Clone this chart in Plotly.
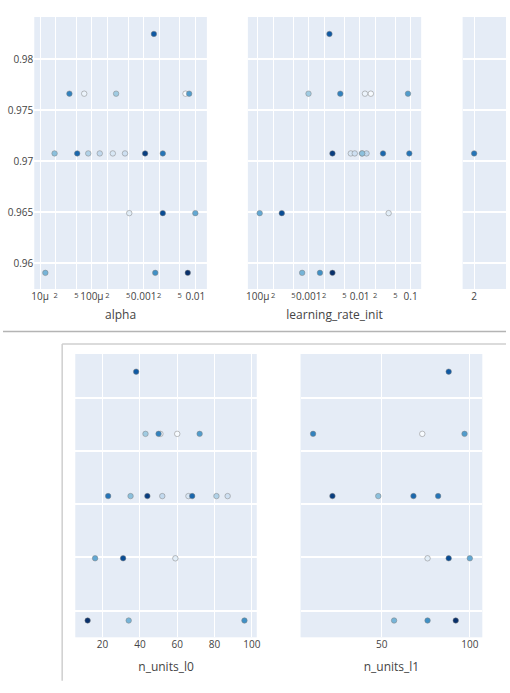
import plotly.graph_objects as go

# ---- data ----
trial_number = list(range(20))
objective_value = [0.97661, 0.97661, 0.96491, 0.97076, 0.97076, 0.97076, 0.97076, 0.97661,
                   0.97076, 0.95906, 0.96491, 0.97661, 0.95906, 0.97661, 0.97076, 0.97076,
                   0.98246, 0.96491, 0.97076, 0.95906]
alpha = [6.46e-3, 7.1e-5, 5.28e-4, 2.54e-4, 4.37e-4, 1.42e-4, 8.5e-5, 2.94e-4,
         1.9e-5, 1.26e-5, 1.0e-2, 7.6e-3, 1.68e-3, 3.68e-5, 2.35e-3, 5.2e-5,
         1.58e-3, 2.35e-3, 1.07e-3, 7.14e-3]
learning_rate_init = [0.01655, 0.0127, 0.037, 6.7e-3, 8.0e-3, 0.01365, 0.0111, 9.9e-4,
                      0.0112, 7.43e-4, 1.09e-4, 0.0887, 1.66e-3, 4.16e-3, 0.0942, 0.0287,
                      2.55e-3, 2.96e-4, 2.92e-3, 2.92e-3]
n_layers = [None, None, None, None, None, None, None, None, None, None,
            None, None, None, None, 2, None, None, None, None, None]
n_units_l0 = [60, 51, 59, 66, 87, 52, 81, 43, 35, 34, 16, 72, 96, 50, 23, 68, 38, 31, 44, 12]
n_units_l1 = [73, None, 76, None, None, None, None, None, 48, 57, 100, 97, 76, 11, 82, 68,
              88, 88, 22, 92]

y_ticks = [0.96, 0.965, 0.97, 0.975, 0.98]
y_tick_text = ["0.96", "0.965", "0.97", "0.975", "0.98"]

W, H = 510, 693

def px_x(a, b):
    return [a / W, b / W]

def px_y(top, bottom):
    return [1 - bottom / H, 1 - top / H]

panels = [
    dict(name="alpha", xs=alpha, xdom=px_x(31.7, 206.7), ydom=px_y(17, 289), showy=True,
         xopts=dict(type="log", range=[-5.114, -1.777], dtick="D2"), title=True, standoff=8),
    dict(name="learning_rate_init", xs=learning_rate_init, xdom=px_x(248.3, 424), ydom=px_y(17, 289),
         showy=False, xopts=dict(type="log", range=[-4.194, -0.793], dtick="D2"), title=True, standoff=8),
    dict(name="n_layers", xs=n_layers, xdom=px_x(466, 510), ydom=px_y(17, 289), showy=False,
         xopts=dict(range=[1.9, 2.276], dtick=1, tick0=0), title=False, standoff=8),
    dict(name="n_units_l0", xs=n_units_l0, xdom=px_x(73.3, 257.3), ydom=px_y(354, 637.3), showy=False,
         xopts=dict(range=[5.4, 102.6], dtick=20), title=True, standoff=12),
    dict(name="n_units_l1", xs=n_units_l1, xdom=px_x(301.7, 486), ydom=px_y(354, 637.3), showy=False,
         xopts=dict(range=[3.9, 107.1], dtick=50), title=True, standoff=12),
]

fig = go.Figure()
layout = {}
tick_font = dict(family="Open Sans", size=10, color="#444")
for i, p in enumerate(panels, start=1):
    sfx = "" if i == 1 else str(i)
    t = [n for n, x in zip(trial_number, p["xs"]) if x is not None]
    xv = [x for x in p["xs"] if x is not None]
    yv = [v for v, x in zip(objective_value, p["xs"]) if x is not None]
    fig.add_trace(go.Scatter(
        x=xv, y=yv, mode="markers", showlegend=False,
        marker=dict(color=t, colorscale="Blues", cmin=0, cmax=19, size=5.5,
                    line=dict(width=0.5, color="Grey")),
        xaxis="x" + sfx, yaxis="y" + sfx))
    xa = dict(domain=p["xdom"], anchor="y" + sfx, showgrid=True, gridcolor="white",
              gridwidth=1, zeroline=False, tickfont=tick_font, ticks="", showline=False,
              **p["xopts"])
    if p["title"]:
        xa["title"] = dict(text=p["name"], font=dict(family="Open Sans", size=12, color="#444"),
                           standoff=p["standoff"])
    ya = dict(domain=p["ydom"], anchor="x" + sfx, range=[0.95748, 0.98412],
              tickvals=y_ticks, ticktext=y_tick_text, showticklabels=p["showy"],
              showgrid=True, gridcolor="white", gridwidth=1.5, zeroline=False,
              tickfont=tick_font, ticks="")
    layout["xaxis" + sfx] = xa
    layout["yaxis" + sfx] = ya

fig.update_layout(**layout)
fig.update_layout(
    width=W, height=H, margin=dict(l=0, r=0, t=0, b=0),
    paper_bgcolor="white", plot_bgcolor="#E5ECF6",
    font=dict(family="Open Sans", size=10, color="#444"),
    shapes=[
        dict(type="line", xref="paper", yref="paper", x0=0, x1=1,
             y0=1 - 331.5 / H, y1=1 - 331.5 / H, line=dict(color="#b4b4b4", width=1.5)),
        dict(type="line", xref="paper", yref="paper", x0=60 / W, x1=1,
             y0=1 - 344 / H, y1=1 - 344 / H, line=dict(color="#cfcfcf", width=1.5)),
        dict(type="line", xref="paper", yref="paper", x0=60 / W, x1=60 / W,
             y0=1 - 344 / H, y1=1 - 680.7 / H, line=dict(color="#cfcfcf", width=1.5)),
    ],
)

fig.write_html("out.html", config={"displayModeBar": False},
               post_script="document.body.style.margin='0';document.body.style.overflow='hidden';")
